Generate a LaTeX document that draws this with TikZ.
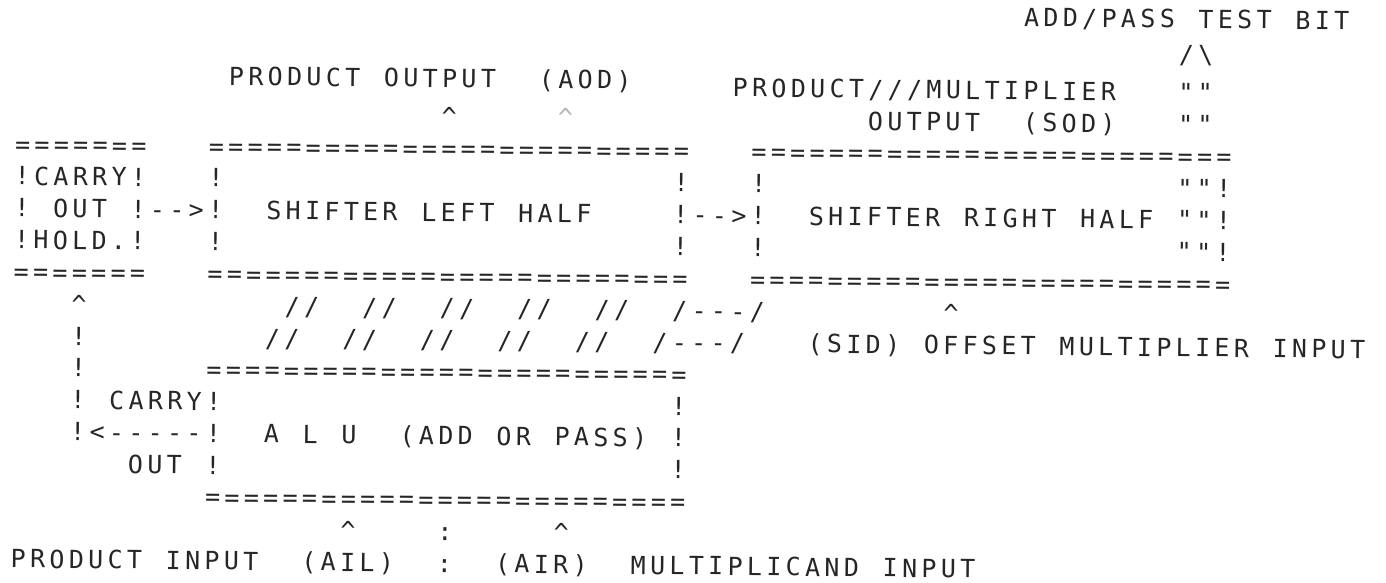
\documentclass[tikz,border=0pt]{standalone}
\usepackage{fontspec}
\newfontfamily\dotfont{DejaVu Sans Mono}
\colorlet{ink}{black!85}
% one printer cell per character
\newlength\cellw
\setlength\cellw{19.38pt}
\makeatletter
\def\mono#1{\mono@loop#1\mono@end}
\def\mono@end{\mono@end}
\def\mono@loop#1{%
  \ifx#1\mono@end\else
    \ifx#1|\hbox to\cellw{\hss}\else\hbox to\cellw{\hss#1\hss}\fi
    \expandafter\mono@loop
  \fi}
\makeatother
\newcommand\eqrow{\mono{=========================}}
\tikzset{
  chars/.style={anchor=base west, inner sep=0pt, outer sep=0pt, text=ink,
    font=\dotfont\fontsize{25pt}{25pt}\selectfont},
  faint/.style={chars, text=ink!35}
}
\begin{document}
\begin{tikzpicture}
\useasboundingbox (0pt,0pt) rectangle (1386pt,-582pt);
\begin{scope}[rotate around={-0.6:(300pt,-300pt)}, transform shape]
\begin{scope}[shift={(11.31pt,-156pt)}, x=19.38pt, y=-31.9pt]
	% labels above the shifter
	\node[chars] (testbit) at (52,-4.3) {\mono{ADD/PASS|TEST|BIT}};
	\node[chars] (testup) at (60,-3.2) {\mono{/{\textbackslash}}};
	\node[chars] (aod) at (11,-2.2) {\mono{PRODUCT|OUTPUT||(AOD)}};
	\node[chars] (sod) at (37,-2) {\mono{PRODUCT///MULTIPLIER}};
	\node[chars] (testq1) at (60,-2) {\mono{""}};
	\node[chars] (aodup) at (22,-1) {\mono{{\textasciicircum}}};
	\node[faint] (aodup2) at (28,-1) {\mono{{\textasciicircum}}};
	\node[chars] (sod2) at (44,-1) {\mono{OUTPUT||(SOD)}};
	\node[chars] (testq2) at (60,-1) {\mono{""}};

	% carry hold and shifter halves
	\node[chars] (cohtop) at (0,0) {\mono{=======}};
	\node[chars] (shltop) at (10,0) {\eqrow};
	\node[chars] (shrtop) at (38,0) {\eqrow};
	\node[chars] (coh1) at (0,1) {\mono{!CARRY!}};
	\node[chars] (shl1) at (10,1) {\mono{!}};
	\node[chars] (shl1r) at (34,1) {\mono{!}};
	\node[chars] (shr1) at (38,1) {\mono{!}};
	\node[chars] (shr1r) at (60,1) {\mono{""!}};
	\node[chars] (coh2) at (0,2) {\mono{!|OUT|!-->!}};
	\node[chars] (shlname) at (13,2) {\mono{SHIFTER|LEFT|HALF}};
	\node[chars] (shlshr) at (34,2) {\mono{!-->!}};
	\node[chars] (shrname) at (41,2) {\mono{SHIFTER|RIGHT|HALF}};
	\node[chars] (shr2r) at (60,2) {\mono{""!}};
	\node[chars] (coh3) at (0,3) {\mono{!HOLD.!}};
	\node[chars] (shl3) at (10,3) {\mono{!}};
	\node[chars] (shl3r) at (34,3) {\mono{!}};
	\node[chars] (shr3) at (38,3) {\mono{!}};
	\node[chars] (shr3r) at (60,3) {\mono{""!}};
	\node[chars] (cohbot) at (0,4) {\mono{=======}};
	\node[chars] (shlbot) at (10,4) {\eqrow};
	\node[chars] (shrbot) at (38,4) {\eqrow};

	% bus from the alu
	\node[chars] (cohup) at (3,5) {\mono{{\textasciicircum}}};
	\foreach \c in {14,18,22,26,30}
		\node[chars] (busa\c) at (\c,5) {\mono{//}};
	\node[chars] (busaend) at (34,5) {\mono{/---/}};
	\node[chars] (sidup) at (48,5) {\mono{{\textasciicircum}}};
	\node[chars] (carry6) at (3,6) {\mono{!}};
	\foreach \c in {13,17,21,25,29}
		\node[chars] (busb\c) at (\c,6) {\mono{//}};
	\node[chars] (busbend) at (33,6) {\mono{/---/}};
	\node[chars] (sid) at (41,6) {\mono{(SID)|OFFSET|MULTIPLIER|INPUT}};

	% alu
	\node[chars] (carry7) at (3,7) {\mono{!}};
	\node[chars] (alutop) at (10,7) {\eqrow};
	\node[chars] (carry8) at (3,8) {\mono{!|CARRY!}};
	\node[chars] (alu8r) at (34,8) {\mono{!}};
	\node[chars] (carry9) at (3,9) {\mono{!<-----!}};
	\node[chars] (aluname) at (13,9) {\mono{A|L|U||(ADD|OR|PASS)}};
	\node[chars] (alu9r) at (34,9) {\mono{!}};
	\node[chars] (carry10) at (6,10) {\mono{OUT|!}};
	\node[chars] (alu10r) at (34,10) {\mono{!}};
	\node[chars] (alubot) at (10,11) {\eqrow};

	% inputs
	\node[chars] (ailup) at (17,12) {\mono{{\textasciicircum}}};
	\node[chars] (split) at (22,12) {\mono{:}};
	\node[chars] (airup) at (28,12) {\mono{{\textasciicircum}}};
	\node[chars] (inputs) at (0,13) {\mono{PRODUCT|INPUT||(AIL)||:||(AIR)||MULTIPLICAND|INPUT}};
\end{scope}
\end{scope}
\end{tikzpicture}
\end{document}
